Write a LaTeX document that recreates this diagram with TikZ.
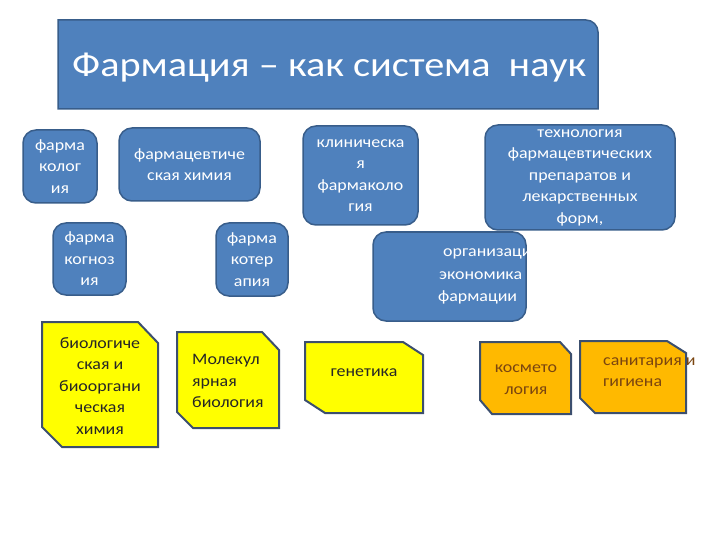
\documentclass[tikz,border=0pt]{standalone}
\usepackage{fontspec}
\setmainfont{Carlito}
\newfontfamily\boxfont[FakeStretch=1.12]{Carlito}
\newfontfamily\titlefont[FakeStretch=1.15]{Carlito}
\definecolor{blueF}{HTML}{4F81BD}
\definecolor{blueE}{HTML}{385D8A}
\definecolor{yelF}{HTML}{FFFF00}
\definecolor{yelE}{HTML}{3C4F6E}
\definecolor{orF}{HTML}{FFB900}
\definecolor{brownT}{HTML}{7A4510}
\definecolor{darkT}{HTML}{262626}
\begin{document}
\begin{tikzpicture}[x=1pt,y=-1pt,
  bluebox/.style={draw=blueE, fill=blueF, line width=1.5pt, rounded corners=13pt,
    text=white, align=center, inner sep=0pt,
    font=\boxfont\fontsize{16}{21.5}\selectfont},
  chamf/.style={draw=yelE, line width=2pt, line join=miter},
  ytext/.style={text=darkT, inner sep=0pt, font=\boxfont\fontsize{16}{21.5}\selectfont},
  otext/.style={text=brownT, inner sep=0pt, font=\boxfont\fontsize{16}{21.5}\selectfont},
  otxt/.style={anchor=west, text=white, inner sep=0pt, font=\boxfont\fontsize{16}{21.5}\selectfont}]
\useasboundingbox (0,0) rectangle (720,540);

% title
\draw[draw=blueE, fill=blueF, line width=1.5pt]
  (58,109) -- (58,20) -- (586,20) arc[start angle=-90,end angle=0,radius=12] -- (598,109) -- cycle;
\node[anchor=base west, text=white, inner sep=0pt, font=\titlefont\fontsize{35}{40}\selectfont]
  (title) at (72,77) {Фармация – как система\ \ наук};

% blue boxes
\node[bluebox, minimum width=74, minimum height=73] (pharmacology) at (60,166.5)
  {фарма\\колог\\ия};
\node[bluebox, minimum width=141, minimum height=73] (chem) at (189.5,164.5)
  {фармацевтиче\\ская химия};
\node[bluebox, minimum width=73, minimum height=72] (pharmacognosy) at (89.5,259)
  {фарма\\когноз\\ия};
\node[bluebox, minimum width=72, minimum height=73] (therapy) at (252,259.5)
  {фарма\\котер\\апия};
\node[bluebox, minimum width=115, minimum height=99] (clinical) at (360.5,175.5)
  {клиническа\\я\\фармаколо\\гия};
\node[bluebox, minimum width=190, minimum height=105] (tech) at (580,177.5)
  {технология\\фармацевтических\\препаратов и\\лекарственных\\форм,};
\node[bluebox, minimum width=153, minimum height=89] (org) at (449.5,276.5) {};
\begin{scope}
  \clip (373,232) rectangle (526,321);
  \node[otxt] (orgA) at (443,254) {организация и};
  \node[otxt] (orgB) at (439,276) {экономика};
  \node[otxt] (orgC) at (438,297) {фармации};
\end{scope}

% yellow boxes
\draw[chamf, fill=yelF] (42,322) -- (138,322) -- (158,343) -- (158,447) -- (62,447) -- (42,427) -- cycle;
\node[ytext, align=center] (bio) at (100,386)
  {биологиче\\ская и\\биооргани\\ческая\\химия};
\draw[chamf, fill=yelF] (177,332) -- (262,332) -- (279,350) -- (279,428) -- (193,428) -- (177,412) -- cycle;
\node[ytext, align=left, anchor=west] (mol) at (192,381)
  {Молекул\\ярная\\биология};
\draw[chamf, fill=yelF] (305,342) -- (403,342) -- (423,355) -- (423,413) -- (325,413) -- (305,400) -- cycle;
\node[ytext] (gen) at (364,373) {генетика};

% orange boxes
\draw[chamf, fill=orF] (480,342) -- (560,342) -- (571,354) -- (571,414) -- (492,414) -- (480,400) -- cycle;
\node[otext, align=center] (cosm) at (526,379.5) {космето\\логия};
\draw[chamf, fill=orF] (580,341) -- (667,341) -- (686,353) -- (686,413) -- (595,413) -- (580,398) -- cycle;
\node[otext, align=left, anchor=west] (san) at (603,372) {санитария и\\гигиена};
\end{tikzpicture}
\end{document}
